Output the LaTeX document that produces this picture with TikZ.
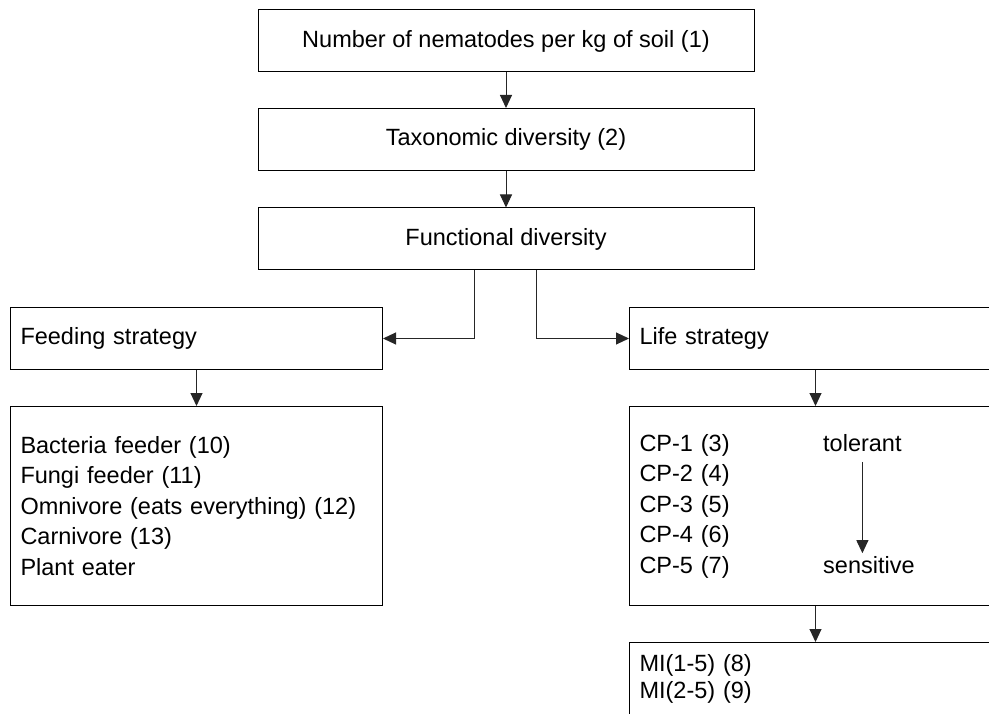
\documentclass[tikz,border=0pt]{standalone}
\usepackage{fontspec}
\setmainfont{Liberation Sans}
\usetikzlibrary{arrows.meta}
\begin{document}
\begin{tikzpicture}[x=1pt,y=-1pt,
  txt/.style={font=\fontsize{23.5}{30.5}\selectfont},
  box/.style={txt, draw=black, line width=1pt, minimum width=496pt, minimum height=62pt, inner sep=0pt},
  lbox/.style={txt, draw=black, line width=1pt, text width=352pt, minimum width=372pt, align=left, inner xsep=10pt, inner ysep=0pt, anchor=north west},
  arr/.style={-{Triangle[length=13pt,width=12pt]}, line width=1pt, draw=black!85},
  word/.style={txt, inner sep=3pt, anchor=west}]
\useasboundingbox (0,0) rectangle (989,714);
\clip (0,0) rectangle (989,714);
\node[box] (n1) at (506,41) {Number of nematodes per kg of soil (1)};
\node[box] (n2) at (506,139.5) {Taxonomic diversity (2)};
\node[box] (n3) at (506,239) {Functional diversity};
\node[lbox, minimum height=62pt] (feed) at (10,307) {Feeding strategy};
\node[lbox, minimum height=62pt] (life) at (629,307) {Life strategy};
\node[lbox, minimum height=199pt] (flist) at (10,406) {Bacteria feeder (10)\\ Fungi feeder (11)\\ Omnivore (eats everything) (12)\\ Carnivore (13)\\ Plant eater};
\node[lbox, minimum height=199pt] (cp) at (629,406) {CP-1 (3)\\ CP-2 (4)\\ CP-3 (5)\\ CP-4 (6)\\ CP-5 (7)};
\node[lbox, minimum height=72pt, font=\fontsize{23.5}{27}\selectfont] (mi) at (629,642) {MI(1-5) (8)\\ MI(2-5) (9)};
\node[word] (tol) at (820,443) {tolerant};
\node[word] (sens) at (820,565) {sensitive};
\draw[arr] (n1) -- (n2);
\draw[arr] (n2) -- (n3);
\draw[arr] ([xshift=-32pt]n3.south) |- (feed.east);
\draw[arr] ([xshift=30pt]n3.south) |- (life.west);
\draw[arr] (feed.south) -- (flist.north);
\draw[arr] (life.south) -- (cp.north);
\draw[arr] (cp.south) -- (mi.north);
\draw[arr] ([yshift=-7pt]tol.south) -- (tol.south |- sens.north);
\end{tikzpicture}
\end{document}
